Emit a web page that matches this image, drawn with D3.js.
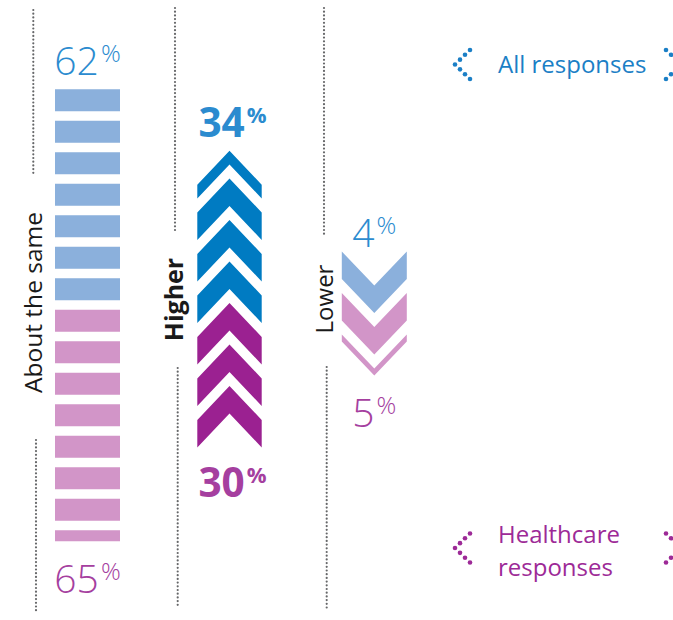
<!DOCTYPE html>
<html>
<head>
<meta charset="utf-8">
<script src="https://cdn.jsdelivr.net/npm/d3@7"></script>
<style>
  html, body { margin: 0; padding: 0; background: #fff; }
  svg { display: block; font-family: "Open Sans", "Noto Sans", sans-serif; }
</style>
</head>
<body>
<script>
// Share of responses saying costs are about the same, higher or lower
const panels = ["About the same", "Higher", "Lower"];
const allResponses = [62, 34, 4];
const healthcareResponses = [65, 30, 5];
const seriesLabels = ["All responses", "Healthcare responses"];

const W = 673, H = 620;
const svg = d3.select("body").append("svg")
  .attr("width", W).attr("height", H);

// column centres and the line that splits the two stacks
const colX = d3.scaleOrdinal().domain(panels).range([87.5, 229.5, 374.3]);
const colY = d3.scaleOrdinal().domain(panels).range([305, 296, 320]);

// icon shape and how many percentage points one icon stands for
const shape = {
  "About the same": { kind: "bar",  size: 22,   gap: 9.5, unit: 8.8, half: 32.5 },
  "Higher":         { kind: "up",   size: 27.5, gap: 14,  unit: 10,  half: 32.2 },
  "Lower":          { kind: "down", size: 27.5, gap: 14,  unit: 4,   half: 32.5 }
};
const DROP = 34; // vertical run of a chevron arm

const palette = {
  "About the same": ["#8bb0dc", "#d295c8"],
  "Higher":         ["#007bc2", "#9b2191"],
  "Lower":          ["#8bb0dc", "#d295c8"]
};
const labelColor = ["#2b8bcf", "#a53f9f"];
const legendColor = ["#1b7fc6", "#9d2a97"];

function chevron(cx, a, b, kind, hw) {
  const p = kind === "up"
    ? [[cx, a], [cx + hw, a + DROP], [cx + hw, b + DROP], [cx, b], [cx - hw, b + DROP], [cx - hw, a + DROP]]
    : [[cx, b], [cx + hw, b - DROP], [cx + hw, a - DROP], [cx, a], [cx - hw, a - DROP], [cx - hw, b - DROP]];
  return "M" + p.map(d => d.join(",")).join("L") + "Z";
}

// dotted guide lines between the columns
const guides = [
  [33.3, 10, 173], [36, 440, 613],
  [175, 8, 233], [177.7, 368, 608],
  [324, 8, 235], [326.7, 367, 608]
];
svg.append("g").selectAll("line").data(guides).join("line")
  .attr("x1", d => d[0]).attr("x2", d => d[0])
  .attr("y1", d => d[1]).attr("y2", d => d[2])
  .attr("stroke", "#666769").attr("stroke-width", 2.2)
  .attr("stroke-linecap", "round").attr("stroke-dasharray", "0 3.7");

// column titles, rotated
const titleStyle = {
  "About the same": { x: 42,  y: 302.5, weight: 400, size: 24.5 },
  "Higher":         { x: 183, y: 299.5, weight: 700, size: 25 },
  "Lower":          { x: 333, y: 299,   weight: 400, size: 24 }
};
svg.append("g").selectAll("text").data(panels).join("text")
  .attr("transform", d => `translate(${titleStyle[d].x},${titleStyle[d].y}) rotate(-90)`)
  .attr("text-anchor", "middle")
  .attr("font-size", d => titleStyle[d].size)
  .attr("font-weight", d => titleStyle[d].weight)
  .attr("fill", "#1a1a1a")
  .text(d => d);

const topGap = [14, 14, 4.5];
const bottomGap = [52, 49, 52];

panels.forEach((panel, pi) => {
  const s = shape[panel];
  const cx = colX(panel), y0 = colY(panel);
  const step = d3.scaleLinear().domain([0, 1]).range([s.gap / 2, s.gap / 2 + s.size + s.gap]);
  const g = svg.append("g");
  let top = Infinity, bottom = -Infinity;

  [allResponses[pi], healthcareResponses[pi]].forEach((value, si) => {
    const dir = si === 0 ? -1 : 1; // all responses stack upward, healthcare downward
    const count = Math.round(value / s.unit * 4) / 4;
    const icons = d3.range(Math.ceil(count)).map(i => {
      const f = Math.min(1, count - i);
      const near = y0 + dir * step(i);
      const far = near + dir * f * s.size;
      return { a: Math.min(near, far), b: Math.max(near, far) };
    });
    icons.forEach(ic => {
      let t, bt;
      if (s.kind === "bar") { t = ic.a; bt = ic.b; }
      else if (s.kind === "up") { t = ic.a; bt = ic.b + DROP; }
      else { t = ic.a - DROP; bt = ic.b; }
      top = Math.min(top, t); bottom = Math.max(bottom, bt);
    });
    if (s.kind === "bar") {
      g.selectAll(null).data(icons).join("rect")
        .attr("x", cx - s.half).attr("width", s.half * 2)
        .attr("y", d => d.a).attr("height", d => d.b - d.a)
        .attr("fill", palette[panel][si]);
    } else {
      g.selectAll(null).data(icons).join("path")
        .attr("d", d => chevron(cx, d.a, d.b, s.kind, s.half))
        .attr("fill", palette[panel][si]);
    }
  });

  // value labels above and below the stacks
  const bold = panel === "Higher";
  [allResponses[pi], healthcareResponses[pi]].forEach((value, si) => {
    const y = si === 0 ? top - topGap[pi] : bottom + bottomGap[pi];
    const t = g.append("text")
      .attr("x", cx + (bold ? 3 : 0)).attr("y", y)
      .attr("text-anchor", "middle")
      .attr("fill", labelColor[si])
      .attr("font-weight", bold ? 700 : 300);
    t.append("tspan").attr("font-size", bold ? 40.5 : 39).text(value);
    t.append("tspan").attr("font-size", bold ? 22 : 24.5)
      .attr("dx", 2).attr("dy", -13.5).text("%");
  });
});

// legend
const legendRows = [
  { lines: ["All responses"], y: 72.7, mid: 64.5 },
  { lines: ["Healthcare", "responses"], y: 543.3, mid: 548 }
];
const markerPts = d3.range(7).map(i => ({ dx: Math.abs(i - 3) * 5, dy: (i - 3) * 4.85 }));
legendRows.forEach((row, si) => {
  const g = svg.append("g").attr("fill", legendColor[si]);
  const t = g.append("text").attr("font-size", 24).attr("y", row.y);
  row.lines.forEach((ln, li) => {
    t.append("tspan").attr("x", 498).attr("dy", li === 0 ? 0 : 33).text(ln);
  });
  g.selectAll(".l").data(markerPts).join("circle")
    .attr("cx", d => 455 + d.dx).attr("cy", d => row.mid + d.dy).attr("r", 2.3);
  g.selectAll(".r").data(markerPts).join("circle")
    .attr("cx", d => 681 - d.dx).attr("cy", d => row.mid + d.dy).attr("r", 2.3);
});
</script>
</body>
</html>
